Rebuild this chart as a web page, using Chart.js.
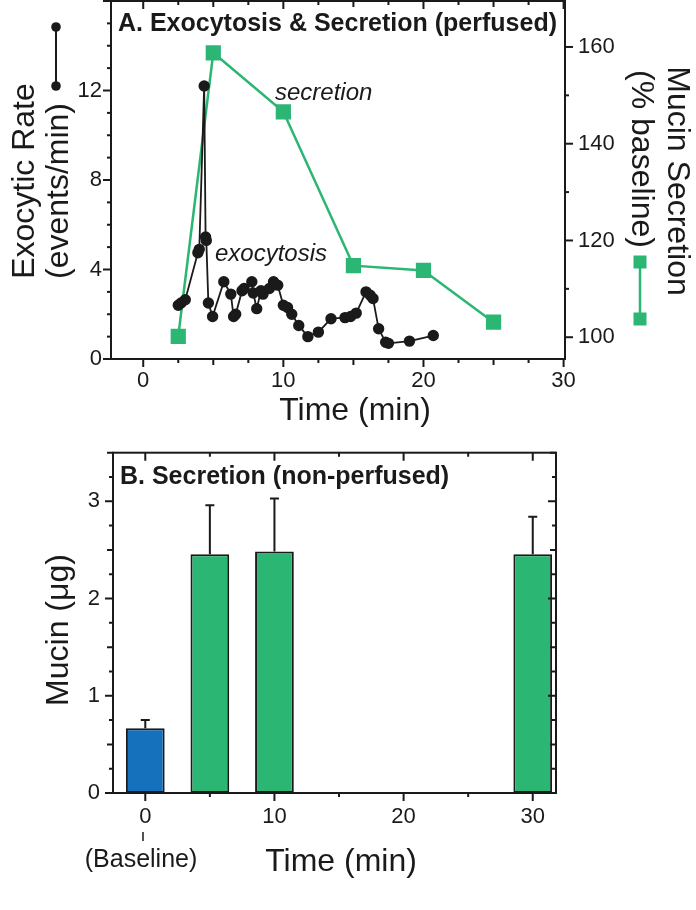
<!DOCTYPE html>
<html>
<head>
<meta charset="utf-8">
<script src="https://cdn.jsdelivr.net/npm/chart.js@4.4.1/dist/chart.umd.min.js"></script>
<style>
  html, body { margin: 0; padding: 0; background: #fff; }
  #wrap { position: relative; width: 696px; height: 910px; }
  canvas { position: absolute; left: 0; }
  #chartA { top: 0; }
  #chartB { top: 440px; }
</style>
</head>
<body>
<div id="wrap">
  <canvas id="chartA" width="696" height="440"></canvas>
  <canvas id="chartB" width="696" height="470"></canvas>
</div>
<script>
// ============================================
// Panel A — exocytosis & secretion (perfused)
// ============================================
const exoTime = [2.5, 2.7, 3.0, 3.9, 4.0, 4.35, 4.45, 4.5, 4.65, 4.95, 5.75, 6.25, 6.45, 6.6, 7.05, 7.2,
  7.75, 7.85, 8.1, 8.4, 8.55, 9.0, 9.3, 9.6, 10.0, 10.3, 10.6, 11.1, 11.75, 12.5, 13.4, 14.4, 14.8, 15.2,
  15.9, 16.2, 16.4, 16.8, 17.3, 17.5, 19.0, 20.7];
const exoRate = [2.4, 2.5, 2.65, 4.75, 4.9, 12.2, 5.45, 5.3, 2.5, 1.9, 3.45, 2.9, 1.9, 2.0, 3.05, 3.15,
  3.45, 2.95, 2.25, 3.05, 2.9, 3.15, 3.45, 3.3, 2.4, 2.3, 2.0, 1.5, 1.0, 1.2, 1.8, 1.85, 1.9, 2.05,
  3.0, 2.85, 2.7, 1.35, 0.75, 0.7, 0.8, 1.05];

const secTime = [2.5, 5, 10, 15, 20, 25];
const secPct = [100.2, 158.8, 146.6, 114.8, 113.8, 103.1];

const timeLabelsA = [0, 10, 20, 30];
const rateLabels = [0, 4, 8, 12];
const pctLabels = [100, 120, 140, 160];

// ============================================
// Panel B — secretion (non-perfused)
// ============================================
const barTime = [0, 5, 10, 30];
const barMucin = [0.665, 2.455, 2.485, 2.455];
const barErr = [0.085, 0.505, 0.545, 0.385];

const timeLabelsB = [0, 10, 20, 30];
const mucinLabels = [0, 1, 2, 3];

// ---- styles ----
const FONT = "'Liberation Sans', Arial, Helvetica, sans-serif";
const INK = '#1a1a1a';
const GREEN = '#2cb674';
const BLUE = '#1671bc';
const tickFont = { family: FONT, size: 22 };

function tickValues(min, max, step) {
  const out = [];
  for (let k = Math.ceil(min / step - 1e-6); k * step <= max + 1e-6; k++) out.push(+(k * step).toFixed(6));
  return out;
}
function isMult(v, step) { return Math.abs(v / step - Math.round(v / step)) < 1e-6; }

// fixed axis box size, no label overhang padding (keeps the plot frame where the figure has it)
function fixBox(dim, size) {
  return s => {
    s[dim] = size;
    s.paddingTop = s.paddingBottom = s.paddingLeft = s.paddingRight = 0;
  };
}

// frame + major/minor ticks (outward on the axes, inward on mirrored sides)
const frameTicks = {
  id: 'frameTicks',
  afterDraw(chart, args, opts) {
    const ctx = chart.ctx, a = chart.chartArea;
    ctx.save();
    ctx.strokeStyle = INK;
    ctx.lineWidth = 2;
    (opts.axes || []).forEach(ax => {
      const s = chart.scales[ax.id];
      tickValues(s.min, s.max, ax.minor).forEach(v => {
        const len = isMult(v, ax.major) ? 8 : (ax.mid && isMult(v, ax.mid) ? 6 : 4);
        const p = s.getPixelForValue(v);
        ctx.beginPath();
        ax.sides.forEach(side => {
          if (side === 'bottom') { ctx.moveTo(p, a.bottom); ctx.lineTo(p, a.bottom + len); }
          if (side === 'topIn') { ctx.moveTo(p, a.top); ctx.lineTo(p, a.top + len); }
          if (side === 'left') { ctx.moveTo(a.left, p); ctx.lineTo(a.left - len, p); }
          if (side === 'right') { ctx.moveTo(a.right, p); ctx.lineTo(a.right + len, p); }
          if (side === 'rightIn') { ctx.moveTo(a.right, p); ctx.lineTo(a.right - len, p); }
        });
        ctx.stroke();
      });
    });
    ctx.strokeRect(a.left, a.top, a.right - a.left, a.bottom - a.top);
    ctx.restore();
  }
};

// free text (titles, axis titles, annotations) + legend keys
const labels = {
  id: 'labels',
  afterDraw(chart, args, opts) {
    const ctx = chart.ctx;
    (opts.items || []).forEach(t => {
      ctx.save();
      ctx.translate(t.x, t.y);
      if (t.rot) ctx.rotate(t.rot * Math.PI / 180);
      ctx.font = t.font;
      ctx.fillStyle = INK;
      ctx.textAlign = t.align || 'center';
      ctx.textBaseline = t.base || 'middle';
      ctx.fillText(t.text, 0, 0);
      ctx.restore();
    });
    (opts.keys || []).forEach(k => {
      ctx.save();
      ctx.strokeStyle = k.color;
      ctx.fillStyle = k.color;
      ctx.lineWidth = k.width;
      ctx.beginPath();
      ctx.moveTo(k.x, k.y1);
      ctx.lineTo(k.x, k.y2);
      ctx.stroke();
      [k.y1, k.y2].forEach(y => {
        if (k.shape === 'rect') {
          ctx.fillRect(k.x - k.size / 2, y - k.size / 2, k.size, k.size);
        } else {
          ctx.beginPath();
          ctx.arc(k.x, y, k.size / 2, 0, Math.PI * 2);
          ctx.fill();
        }
      });
      ctx.restore();
    });
    (opts.lines || []).forEach(l => {
      ctx.save();
      ctx.strokeStyle = INK;
      ctx.lineWidth = 1.5;
      ctx.beginPath();
      ctx.moveTo(l[0], l[1]);
      ctx.lineTo(l[2], l[3]);
      ctx.stroke();
      ctx.restore();
    });
  }
};

const errorBars = {
  id: 'errorBars',
  afterDatasetsDraw(chart, args, opts) {
    const ctx = chart.ctx, y = chart.scales.y;
    const meta = chart.getDatasetMeta(0);
    ctx.save();
    ctx.strokeStyle = INK;
    ctx.lineWidth = 2;
    meta.data.forEach((bar, i) => {
      const top = y.getPixelForValue(barMucin[i] + barErr[i]);
      ctx.beginPath();
      ctx.moveTo(bar.x, bar.y);
      ctx.lineTo(bar.x, top);
      ctx.moveTo(bar.x - opts.cap, top);
      ctx.lineTo(bar.x + opts.cap, top);
      ctx.stroke();
    });
    ctx.restore();
  }
};

function linearAxis(extra, tickExtra) {
  return Object.assign({
    type: 'linear',
    grid: { display: false, drawTicks: false },
    border: { display: false },
    title: { display: false }
  }, extra, {
    ticks: Object.assign({ color: INK, font: tickFont, autoSkip: false, maxRotation: 0, includeBounds: false }, tickExtra)
  });
}

const titleFont = `32px ${FONT}`;
const panelFont = `bold 25px ${FONT}`;
const noteFont = `italic 24px ${FONT}`;

// ---- Panel A ----
new Chart(document.getElementById('chartA'), {
  type: 'scatter',
  data: {
    datasets: [
      {
        label: 'exocytosis',
        data: exoTime.map((t, i) => ({ x: t, y: exoRate[i] })),
        yAxisID: 'yRate',
        showLine: true,
        borderColor: INK,
        backgroundColor: INK,
        borderWidth: 1.8,
        pointRadius: 4.8,
        pointHoverRadius: 4.8,
        order: 0
      },
      {
        label: 'secretion',
        data: secTime.map((t, i) => ({ x: t, y: secPct[i] })),
        yAxisID: 'yPct',
        showLine: true,
        borderColor: GREEN,
        backgroundColor: GREEN,
        borderWidth: 2.5,
        pointStyle: 'rect',
        pointRadius: 9,
        pointHoverRadius: 9,
        order: 1
      }
    ]
  },
  options: {
    responsive: false,
    animation: false,
    devicePixelRatio: 1,
    layout: { autoPadding: false, padding: { top: 1, left: 0, right: 0, bottom: 0 } },
    events: [],
    plugins: {
      legend: { display: false },
      tooltip: { enabled: false },
      frameTicks: {
        axes: [
          { id: 'x', minor: 2.5, mid: 5, major: 10, sides: ['bottom', 'topIn'] },
          { id: 'yRate', minor: 1, major: 4, sides: ['left'] },
          { id: 'yPct', minor: 10, major: 20, sides: ['right'] }
        ]
      },
      labels: {
        items: [
          { text: 'A. Exocytosis & Secretion (perfused)', x: 118, y: 31, font: panelFont, align: 'left', base: 'alphabetic' },
          { text: 'secretion', x: 275, y: 100, font: noteFont, align: 'left', base: 'alphabetic' },
          { text: 'exocytosis', x: 215, y: 261, font: noteFont, align: 'left', base: 'alphabetic' },
          { text: 'Exocytic Rate', x: 25, y: 181, font: titleFont, rot: -90 },
          { text: '(events/min)', x: 59, y: 191, font: titleFont, rot: -90 },
          { text: 'Mucin Secretion', x: 677, y: 181, font: titleFont, rot: 90 },
          { text: '(% baseline)', x: 641, y: 159, font: titleFont, rot: 90 },
          { text: 'Time (min)', x: 355, y: 411, font: titleFont }
        ],
        keys: [
          { x: 56, y1: 27, y2: 86, color: INK, width: 2, shape: 'circle', size: 9.6 },
          { x: 640, y1: 262, y2: 319, color: GREEN, width: 2.5, shape: 'rect', size: 13 }
        ]
      }
    },
    scales: {
      x: linearAxis({ position: 'bottom', min: -2.3, max: 30.1, afterFit: fixBox('height', 81) },
        { stepSize: 10, padding: 9, callback: v => timeLabelsA.includes(v) ? v : '' }),
      yRate: linearAxis({ position: 'left', min: 0, max: 16, afterFit: fixBox('width', 111) },
        { stepSize: 4, padding: 9, callback: v => rateLabels.includes(v) ? v : '' }),
      yPct: linearAxis({ position: 'right', min: 95.5, max: 169.5, afterFit: fixBox('width', 131) },
        { stepSize: 20, padding: 13, callback: v => pctLabels.includes(v) ? v : '' })
    }
  },
  plugins: [frameTicks, labels]
});

// ---- Panel B ----
new Chart(document.getElementById('chartB'), {
  type: 'bar',
  data: {
    datasets: [{
      label: 'Mucin',
      data: barTime.map((t, i) => ({ x: t, y: barMucin[i] })),
      backgroundColor: barTime.map(t => t === 0 ? BLUE : GREEN),
      borderColor: INK,
      borderWidth: 2,
      borderSkipped: false,
      barPercentage: 0.6,
      categoryPercentage: 1
    }]
  },
  options: {
    responsive: false,
    animation: false,
    devicePixelRatio: 1,
    layout: { autoPadding: false, padding: { top: 12.7, left: 0, right: 140, bottom: 0 } },
    events: [],
    plugins: {
      legend: { display: false },
      tooltip: { enabled: false },
      errorBars: { cap: 4.5 },
      frameTicks: {
        axes: [
          { id: 'x', minor: 5, major: 10, sides: ['bottom', 'topIn'] },
          { id: 'y', minor: 0.25, mid: 0.5, major: 1, sides: ['left', 'rightIn'] }
        ]
      },
      labels: {
        items: [
          { text: 'B. Secretion (non-perfused)', x: 120, y: 44, font: panelFont, align: 'left', base: 'alphabetic' },
          { text: 'Mucin (μg)', x: 59, y: 190, font: titleFont, rot: -90 },
          { text: 'Time (min)', x: 341, y: 422, font: titleFont },
          { text: '(Baseline)', x: 141, y: 420, font: `25px ${FONT}` }
        ],
        lines: [[143, 392, 143, 401]]
      }
    },
    scales: {
      x: linearAxis({ position: 'bottom', offset: false, min: -2.5, max: 31.8, afterFit: fixBox('height', 117) },
        { stepSize: 10, padding: 11, callback: v => timeLabelsB.includes(v) ? v : '' }),
      y: linearAxis({ position: 'left', min: 0, max: 3.5, afterFit: fixBox('width', 113) },
        { stepSize: 1, padding: 13, callback: v => mucinLabels.includes(v) ? v : '' })
    }
  },
  plugins: [errorBars, frameTicks, labels]
});
</script>
</body>
</html>
